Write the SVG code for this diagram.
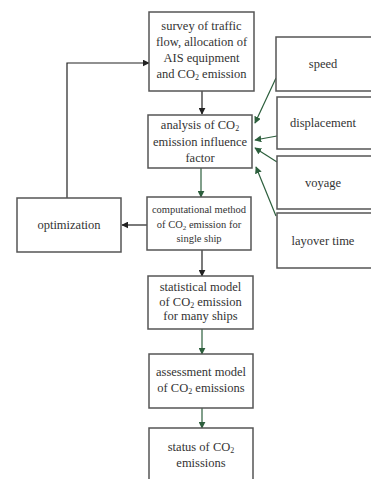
<svg xmlns="http://www.w3.org/2000/svg" width="371" height="479" viewBox="0 0 371 479">
<style>
.box{fill:#fff;stroke:#555;stroke-width:1.5}
.t{font-family:"Liberation Serif","Times New Roman",serif;font-size:12.5px;fill:#333;text-anchor:middle}
.s{font-size:10.5px}
.k{fill:none;stroke:#222;stroke-width:1.2}
.g{fill:none;stroke:#2d5f3d;stroke-width:1.2}
</style>
<defs>
<marker id="ak" viewBox="0 0 10 10" refX="9" refY="5" markerWidth="7" markerHeight="7" orient="auto" markerUnits="userSpaceOnUse"><path d="M0,0L10,5L0,10z" fill="#222"/></marker>
<marker id="ag" viewBox="0 0 10 10" refX="9" refY="5" markerWidth="7" markerHeight="7" orient="auto" markerUnits="userSpaceOnUse"><path d="M0,0L10,5L0,10z" fill="#2d5f3d"/></marker>
</defs>
<rect width="371" height="479" fill="#fff"/>
<g id="connectors">
<path class="k" d="M202,91V114" marker-end="url(#ak)"/>
<path class="g" d="M201,168V197" marker-end="url(#ag)"/>
<path class="k" d="M202,250V276" marker-end="url(#ak)"/>
<path class="g" d="M202,329V354" marker-end="url(#ag)"/>
<path class="g" d="M202,408V428" marker-end="url(#ag)"/>
<path class="k" d="M147,225H122" marker-end="url(#ak)"/>
<path class="k" d="M67,198V63H149" marker-end="url(#ak)"/>
<path class="g" d="M276,78L255,123" marker-end="url(#ag)"/>
<path class="g" d="M277,136L255,140" marker-end="url(#ag)"/>
<path class="g" d="M277,162L255,148" marker-end="url(#ag)"/>
<path class="g" d="M276,216L256,167" marker-end="url(#ag)"/>
</g>
<g id="survey"><rect class="box" x="149" y="12" width="105" height="79"/>
<text class="t" x="201.5" y="30">survey of traffic</text>
<text class="t" x="201.5" y="46">flow, allocation of</text>
<text class="t" x="201.5" y="61.5">AIS equipment</text>
<text class="t" x="201.5" y="77.5">and CO<tspan font-size="8" dy="2">2</tspan><tspan dy="-2"> emission</tspan></text></g>
<g id="analysis"><rect class="box" x="148" y="115" width="104" height="53"/>
<text class="t" x="200" y="129">analysis of CO<tspan font-size="8" dy="2">2</tspan></text>
<text class="t" x="200" y="146">emission influence</text>
<text class="t" x="200" y="161.5">factor</text></g>
<g id="computational"><rect class="box" x="147" y="197" width="104" height="53"/>
<text class="t s" x="199" y="212.5">computational method</text>
<text class="t s" x="199" y="227.5">of CO<tspan font-size="7" dy="2">2</tspan><tspan dy="-2"> emission for</tspan></text>
<text class="t s" x="199" y="241.5">single ship</text></g>
<g id="statistical"><rect class="box" x="148" y="276" width="105" height="53"/>
<text class="t" x="200.5" y="291">statistical model</text>
<text class="t" x="200.5" y="305.5">of CO<tspan font-size="8" dy="2">2</tspan><tspan dy="-2"> emission</tspan></text>
<text class="t" x="200.5" y="320">for many ships</text></g>
<g id="assessment"><rect class="box" x="149" y="354" width="104" height="54"/>
<text class="t" x="201" y="376">assessment model</text>
<text class="t" x="201" y="392">of CO<tspan font-size="8" dy="2">2</tspan><tspan dy="-2"> emissions</tspan></text></g>
<g id="status"><rect class="box" x="149" y="428" width="104" height="60"/>
<text class="t" x="201" y="451">status of CO<tspan font-size="8" dy="2">2</tspan></text>
<text class="t" x="201" y="467">emissions</text></g>
<g id="optimization"><rect class="box" x="17" y="198" width="104" height="54"/>
<text class="t" x="69" y="229">optimization</text></g>
<g id="speed"><rect class="box" x="276" y="37" width="110" height="54"/>
<text class="t" x="323" y="68">speed</text></g>
<g id="displacement"><rect class="box" x="277" y="97" width="110" height="52"/>
<text class="t" x="323" y="127">displacement</text></g>
<g id="voyage"><rect class="box" x="277" y="156" width="110" height="53"/>
<text class="t" x="323" y="187">voyage</text></g>
<g id="layover"><rect class="box" x="277" y="213" width="110" height="55"/>
<text class="t" x="323" y="245">layover time</text></g>
</svg>
